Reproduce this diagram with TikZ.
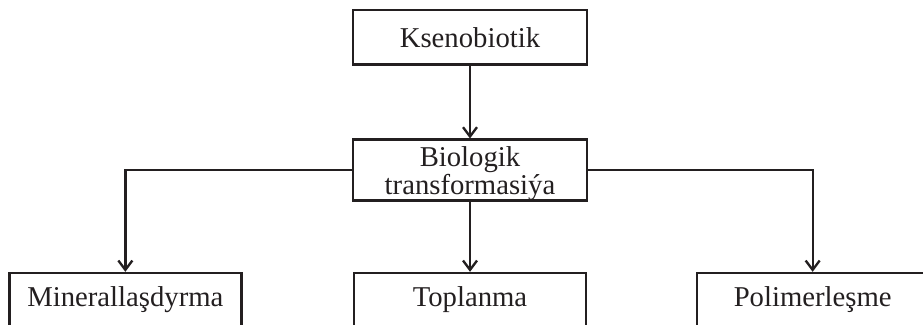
\documentclass[tikz,border=0pt]{standalone}
\usepackage{fontspec}
\setmainfont{Liberation Serif}
\usepackage{tikz}
\usetikzlibrary{arrows.meta,positioning}
\definecolor{lineDark}{HTML}{231F20}
\tikzset{
  blok/.style={draw=lineDark, line width=2pt, align=center, font=\fontsize{24.5}{22}\selectfont, text=lineDark, minimum height=1.64cm, minimum width=#1, inner sep=0pt},
  blok/.default=7.02cm,
  arrflow/.style={-{Straight Barb[length=2.8mm, width=4.2mm, line width=2pt]}, line width=2pt, draw=lineDark},
}

\begin{document}
\begin{tikzpicture}
\useasboundingbox (0,0) rectangle (27.69,9.72);
\clip (0,0) rectangle (27.69,9.72);
% Ksenobiotik
\node[blok] (ksen) at (14.1,8.6) {Ksenobiotik};

% Biologik transformasiya
\node[blok, minimum height=1.62cm] (bio) at (14.1,4.62) {\rule{0pt}{23pt}Biologik\\transformasiýa};

% Netijeler
\node[blok=6.96cm, minimum height=1.62cm] (mine) at (3.76,0.72) {Minerallaşdyrma};
\node[blok=6.96cm, minimum height=1.62cm] (topl) at (14.1,0.72) {Toplanma};
\node[blok=6.96cm, minimum height=1.62cm] (poli) at (24.38,0.72) {Polimerleşme};

% Peýkamlar
\draw[arrflow] (ksen.south) -- (bio.north);
\draw[arrflow] (bio.west) -| (mine.north);
\draw[arrflow] (bio.south) -- (topl.north);
\draw[arrflow] (bio.east) -| (poli.north);
\end{tikzpicture}
\end{document}
